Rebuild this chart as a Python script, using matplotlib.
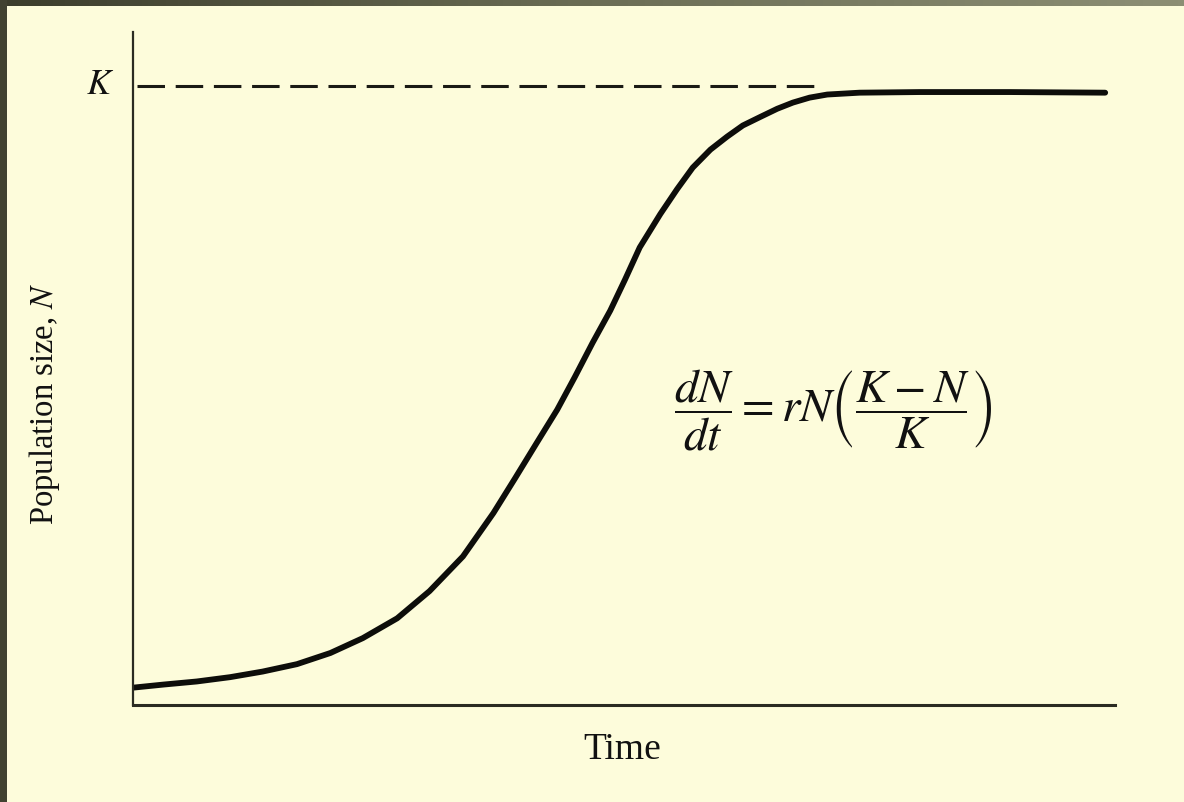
import numpy as np
import matplotlib
matplotlib.use('Agg')
import matplotlib.pyplot as plt
from matplotlib.colors import LinearSegmentedColormap

plt.rcParams['font.family'] = ['Liberation Serif', 'DejaVu Serif']
plt.rcParams['mathtext.fontset'] = 'stix'

# dados (tempo, tamanho da populacao)
tempo = [0.00, 0.31, 0.65, 0.99, 1.32, 1.67, 2.01, 2.34, 2.69, 3.02,
         3.36, 3.67, 3.89, 4.11, 4.32, 4.50, 4.68, 4.86, 5.01, 5.16,
         5.37, 5.54, 5.70, 5.88, 6.05, 6.21, 6.39, 6.56, 6.72, 6.89,
         7.07, 7.40, 8.01, 8.93, 9.90]
populacao = [2.8, 3.3, 3.8, 4.5, 5.4, 6.6, 8.4, 10.8, 14.0, 18.4,
             24.0, 31.0, 36.6, 42.3, 47.7, 53.0, 58.5, 63.7, 68.7, 73.9,
             79.3, 83.3, 86.8, 89.7, 91.8, 93.6, 95.0, 96.3, 97.3, 98.1,
             98.6, 98.9, 99.0, 99.0, 98.9]
K = 100
K_fim = 7.0

fundo = '#fdfcdb'
fig = plt.figure(figsize=(11.84, 8.02), dpi=100, facecolor=fundo)

# moldura escura (topo e esquerda)
faixa = fig.add_axes([0, 1 - 6/802, 1, 6/802])
cmap = LinearSegmentedColormap.from_list('moldura', ['#3c3d2c', '#6b6d55', '#8c8e74'])
faixa.imshow(np.linspace(0, 1, 200).reshape(1, -1), aspect='auto', cmap=cmap)
faixa.axis('off')
lado = fig.add_axes([0, 0, 7/1184, 1])
lado.set_facecolor('#414231')
lado.set_xticks([])
lado.set_yticks([])
for s in lado.spines.values():
    s.set_visible(False)

ax = fig.add_axes([133/1184, 1 - 705/802, 982/1184, 673/802])
ax.patch.set_alpha(0)
ax.set_xlim(0, 10)
ax.set_ylim(0, 108.7)

ax.plot([0.04, K_fim], [K, K], color='#1a1a14', lw=2.2, dashes=(9, 3.5))
ax.plot(tempo, populacao, color='#0d0d0a', lw=4.2, solid_capstyle='round',
        solid_joinstyle='round')

for lado_sp in ['top', 'right']:
    ax.spines[lado_sp].set_visible(False)
ax.spines['left'].set_linewidth(1.6)
ax.spines['bottom'].set_linewidth(2.2)
ax.spines['left'].set_color('#2b2b22')
ax.spines['bottom'].set_color('#2b2b22')
ax.set_xticks([])
ax.set_yticks([])

ax.text(-0.34, K, '$K$', fontsize=26, ha='center', va='center', color='#111')
fig.text(622/1184, 1 - 750/802, 'Time', fontsize=27, ha='center', va='center', color='#111')
fig.text(45/1184, 1 - 404/802, 'Population size, $N$', fontsize=23.5, rotation=90,
         ha='center', va='center', color='#111')
fig.text(833/1184, 1 - 410/802,
         r'$\dfrac{dN}{dt} = rN\left(\dfrac{K - N}{K}\right)$',
         fontsize=34, ha='center', va='center', color='#111')

fig.savefig('out.png', dpi=100, facecolor=fundo)
